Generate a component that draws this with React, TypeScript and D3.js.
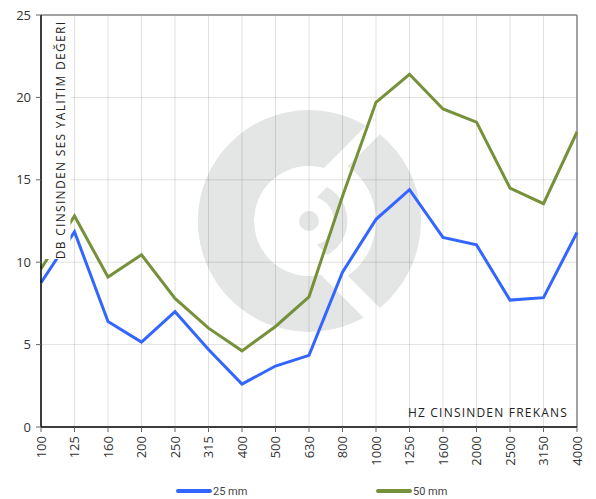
import React from "react";
import * as d3 from "d3";

const categories = ["100","125","160","200","250","315","400","500","630","800","1000","1250","1600","2000","2500","3150","4000"];
const series25 = [8.75, 11.85, 6.4, 5.15, 7.0, 4.7, 2.6, 3.7, 4.35, 9.4, 12.6, 14.4, 11.5, 11.05, 7.7, 7.85, 11.8];
const series50 = [9.6, 12.8, 9.1, 10.45, 7.8, 6.0, 4.62, 6.1, 7.9, 14.0, 19.7, 21.4, 19.3, 18.5, 14.5, 13.55, 17.9];
const yTicks = [0, 5, 10, 15, 20, 25];
const seriesNames = ["25 mm", "50 mm"];
const seriesColors = ["#3366ff", "#76913a"];
const yTitle = "DB CINSINDEN SES YALITIM DEĞERI";
const xTitle = "HZ CINSINDEN FREKANS";

const W = 596, H = 499;
const L = 41, R = 577, T = 15, B = 427;

export default function App() {
  const x = d3.scalePoint<string>().domain(categories).range([L, R]);
  const y = d3.scaleLinear().domain([0, 25]).range([B, T]);
  const line = d3.line<number>().x((_, i) => x(categories[i]) as number).y((d) => y(d));
  const cx = (L + R) / 2, cy = (T + B) / 2;
  const ring = (ri: number, ro: number) =>
    d3.arc()({ innerRadius: ri, outerRadius: ro, startAngle: 0, endAngle: Math.PI * 2 } as any) as string;
  const wm = "#e4e5e5";
  const font = "'Open Sans', 'Noto Sans', sans-serif";
  const data = [series25, series50];
  return (
    <svg width={W} height={H} style={{ position: "absolute", left: 0, top: 0 }} xmlns="http://www.w3.org/2000/svg">
      <defs>
        <clipPath id="hpA"><polygon points="-150,-150 112,-150 -150,112" /></clipPath>
        <clipPath id="hpB"><polygon points="-150,-108 108,150 -150,150" /></clipPath>
        <clipPath id="wedge"><polygon points="-16,0 134,-150 150,-150 150,150 134,150" /></clipPath>
      </defs>
      <rect x={0} y={0} width={W} height={H} fill="#fff" />
      {/* watermark */}
      <g transform={`translate(${cx},${cy})`}>
        <path d={ring(55, 111)} fill={wm} clipPath="url(#hpA)" />
        <path d={ring(55, 111)} fill={wm} clipPath="url(#hpB)" />
        <path d={ring(67, 112)} fill={wm} clipPath="url(#wedge)" />
        <path d={ring(25, 38.5)} fill={wm} clipPath="url(#wedge)" />
        <circle r={10} fill={wm} />
      </g>
      {/* grid */}
      {categories.map((c) => (
        <line key={"gx" + c} x1={x(c)} x2={x(c)} y1={T} y2={B} stroke="rgba(0,0,0,0.12)" strokeWidth={1} />
      ))}
      {yTicks.map((t) => (
        <line key={"gy" + t} x1={L} x2={R} y1={y(t)} y2={y(t)} stroke="rgba(0,0,0,0.12)" strokeWidth={1} />
      ))}
      {/* border */}
      <line x1={L} x2={R} y1={T} y2={T} stroke="#888" strokeWidth={1.5} />
      <line x1={R} x2={R} y1={T} y2={B} stroke="#888" strokeWidth={1.5} />
      {/* series */}
      {data.map((s, i) => (
        <path key={"s" + i} d={line(s) as string} fill="none" stroke={seriesColors[i]} strokeWidth={3} strokeLinejoin="miter" />
      ))}
      {/* y title with background */}
      <rect x={42} y={T + 1} width={28.5} height={259 - T - 1} fill="#fff" />
      <text transform={`translate(64.5,${(22 + 258) / 2}) rotate(-90)`} textAnchor="middle" fontFamily={font} fontSize={12} letterSpacing={1.3} fill="#222">{yTitle}</text>
      {/* axes */}
      <line x1={L} x2={L} y1={T} y2={B} stroke="#000" strokeWidth={1.5} />
      <line x1={L} x2={R} y1={B} y2={B} stroke="#000" strokeWidth={1.5} />
      {yTicks.map((t) => (
        <g key={"yt" + t}>
          <line x1={L - 5} x2={L} y1={y(t)} y2={y(t)} stroke="#666" />
          <text x={31} y={y(t)} dy="0.35em" textAnchor="end" fontFamily={font} fontSize={13} fill="#333">{t}</text>
        </g>
      ))}
      {categories.map((c) => (
        <g key={"xt" + c}>
          <line x1={x(c)} x2={x(c)} y1={B} y2={B + 5} stroke="#666" />
          <text transform={`translate(${x(c)},${B + 9}) rotate(-90)`} dy="0.35em" textAnchor="end" fontFamily={font} fontSize={13} fill="#333">{c}</text>
        </g>
      ))}
      <text x={568} y={417} textAnchor="end" fontFamily={font} fontSize={12} letterSpacing={1.2} fill="#222">{xTitle}</text>
      {/* legend */}
      {seriesNames.map((n, i) => (
        <g key={"lg" + i} transform={`translate(${178 + i * 200},491)`}>
          <line x1={0} x2={32} y1={0} y2={0} stroke={seriesColors[i]} strokeWidth={4} strokeLinecap="round" />
          <text x={35} y={0} dy="0.35em" fontFamily="'Liberation Sans Narrow', 'Roboto', sans-serif" fontSize={11} fill="#444">{n}</text>
        </g>
      ))}
    </svg>
  );
}
